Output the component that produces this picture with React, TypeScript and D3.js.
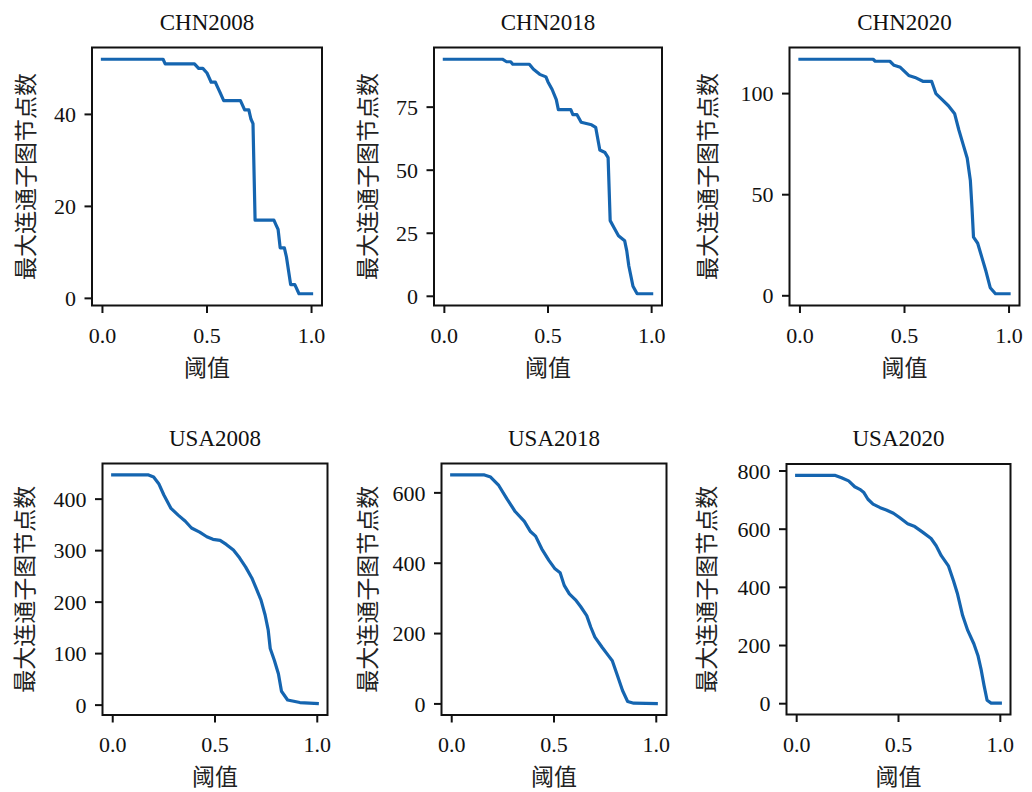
import React from "react";
import * as d3 from "d3";

const titles = ["CHN2008", "CHN2018", "CHN2020", "USA2008", "USA2018", "USA2020"];
const xTicks = [0, 0.5, 1.0];
const yTicksCHN2008 = [0, 20, 40];
const yTicksCHN2018 = [0, 25, 50, 75];
const yTicksCHN2020 = [0, 50, 100];
const yTicksUSA2008 = [0, 100, 200, 300, 400];
const yTicksUSA2018 = [0, 200, 400, 600];
const yTicksUSA2020 = [0, 200, 400, 600, 800];
const yLabel = "最大连通子图节点数";
const xLabel = "阈值";

const chn2008X = [0, 0.29, 0.30, 0.44, 0.46, 0.48, 0.50, 0.51, 0.52, 0.54, 0.55, 0.56, 0.58, 0.66, 0.68, 0.70, 0.71, 0.72, 0.73, 0.82, 0.83, 0.84, 0.85, 0.87, 0.88, 0.90, 0.92, 0.94, 1.0];
const chn2008Y = [52, 52, 51, 51, 50, 50, 49, 48, 47, 47, 46, 45, 43, 43, 41, 41, 39, 38, 17, 17, 16, 15, 11, 11, 9, 3, 3, 1, 1];

const chn2018X = [0, 0.28, 0.30, 0.32, 0.33, 0.41, 0.43, 0.46, 0.49, 0.50, 0.52, 0.54, 0.55, 0.61, 0.62, 0.64, 0.66, 0.71, 0.73, 0.75, 0.775, 0.79, 0.80, 0.82, 0.84, 0.87, 0.88, 0.89, 0.91, 0.93, 1.0];
const chn2018Y = [94, 94, 93, 93, 92, 92, 90, 88, 87, 85, 82, 78, 74, 74, 72, 72, 69, 68, 67, 58, 57, 55, 30, 27, 24, 22, 18, 12, 4, 1, 1];

const chn2020X = [0, 0.35, 0.36, 0.43, 0.45, 0.48, 0.50, 0.52, 0.55, 0.59, 0.63, 0.65, 0.68, 0.71, 0.74, 0.76, 0.78, 0.80, 0.815, 0.823, 0.83, 0.85, 0.87, 0.89, 0.91, 0.935, 1.0];
const chn2020Y = [117, 117, 116, 116, 114, 113, 111, 109, 108, 106, 106, 100, 97, 94, 90, 82, 75, 68, 57, 43, 29, 26, 19, 12, 4, 1, 1];

const usa2008X = [0, 0.175, 0.20, 0.225, 0.25, 0.285, 0.32, 0.355, 0.385, 0.425, 0.46, 0.49, 0.525, 0.555, 0.59, 0.62, 0.65, 0.68, 0.70, 0.725, 0.745, 0.76, 0.77, 0.79, 0.81, 0.825, 0.855, 0.915, 1.0];
const usa2008Y = [447, 447, 443, 430, 408, 382, 369, 357, 344, 336, 327, 322, 320, 312, 301, 286, 268, 247, 228, 204, 175, 146, 110, 87, 61, 27, 10, 5, 3];

const usa2018X = [0, 0.16, 0.19, 0.23, 0.27, 0.31, 0.355, 0.385, 0.41, 0.44, 0.475, 0.505, 0.53, 0.55, 0.575, 0.605, 0.63, 0.66, 0.68, 0.70, 0.735, 0.765, 0.785, 0.81, 0.835, 0.86, 0.89, 1.0];
const usa2018Y = [651, 651, 645, 621, 583, 547, 519, 490, 477, 441, 408, 384, 373, 337, 313, 296, 277, 251, 218, 190, 161, 138, 123, 81, 38, 7, 2, 1];

const usa2020X = [0, 0.19, 0.22, 0.255, 0.285, 0.31, 0.33, 0.35, 0.375, 0.41, 0.44, 0.475, 0.505, 0.545, 0.58, 0.62, 0.66, 0.685, 0.71, 0.745, 0.77, 0.79, 0.815, 0.84, 0.87, 0.89, 0.905, 0.92, 0.935, 0.955, 1.0];
const usa2020Y = [785, 785, 777, 766, 746, 737, 726, 703, 686, 674, 666, 655, 640, 619, 609, 589, 568, 543, 509, 474, 423, 377, 303, 252, 206, 166, 120, 63, 12, 2, 2];

const seriesX = [chn2008X, chn2018X, chn2020X, usa2008X, usa2018X, usa2020X];
const seriesY = [chn2008Y, chn2018Y, chn2020Y, usa2008Y, usa2018Y, usa2020Y];
const yTickSets = [yTicksCHN2008, yTicksCHN2018, yTicksCHN2020, yTicksUSA2008, yTicksUSA2018, yTicksUSA2020];

// layout (pixel boxes of each axes)
const boxes = [
  { l: 92, r: 322, t: 47.5, b: 305.5, yl: 26 },
  { l: 434, r: 662, t: 47.5, b: 305.5, yl: 368 },
  { l: 789.5, r: 1019.5, t: 47.5, b: 305.5, yl: 708 },
  { l: 102.5, r: 327.5, t: 463.5, b: 715, yl: 25 },
  { l: 441.5, r: 666.5, t: 463.5, b: 715, yl: 368 },
  { l: 786.5, r: 1010.5, t: 464, b: 714.5, yl: 707 },
];

const LINE_COLOR = "#1565b0";
const LATIN = "'Liberation Serif', 'Times New Roman', serif";
const CJK = "'Noto Sans CJK SC', 'Noto Sans CJK JP', sans-serif";
const TICK = 7.5;

function Panel({ i }: { i: number }) {
  const bx = boxes[i];
  const xs = seriesX[i];
  const ys = seriesY[i];
  const yMin = d3.min(ys) as number;
  const yMax = d3.max(ys) as number;
  const pad = (yMax - yMin) * 0.05;
  const x = d3.scaleLinear().domain([-0.05, 1.05]).range([bx.l, bx.r]);
  const y = d3.scaleLinear().domain([yMin - pad, yMax + pad]).range([bx.b, bx.t]);
  const pts = xs.map((v, k) => [v, ys[k]] as [number, number]);
  const line = d3
    .line<[number, number]>()
    .x((d) => x(d[0]))
    .y((d) => y(d[1]));
  const cx = (bx.l + bx.r) / 2;
  const cy = (bx.t + bx.b) / 2;
  return (
    <g>
      <path d={line(pts) || ""} fill="none" stroke={LINE_COLOR} strokeWidth={3.2} strokeLinejoin="round" strokeLinecap="square" />
      <rect x={bx.l} y={bx.t} width={bx.r - bx.l} height={bx.b - bx.t} fill="none" stroke="#111" strokeWidth={2} />
      {xTicks.map((t) => (
        <g key={"x" + t}>
          <line x1={x(t)} x2={x(t)} y1={bx.b} y2={bx.b + TICK} stroke="#111" strokeWidth={2} />
          <text x={x(t)} y={bx.b + 37} textAnchor="middle" fontFamily={LATIN} fontSize={22} fill="#111">
            {t.toFixed(1)}
          </text>
        </g>
      ))}
      {yTickSets[i].map((t) => (
        <g key={"y" + t}>
          <line x1={bx.l - TICK} x2={bx.l} y1={y(t)} y2={y(t)} stroke="#111" strokeWidth={2} />
          <text x={bx.l - 16} y={y(t)} dy="0.35em" textAnchor="end" fontFamily={LATIN} fontSize={22} fill="#111">
            {t}
          </text>
        </g>
      ))}
      <text x={cx} y={bx.t - 18} textAnchor="middle" fontFamily={LATIN} fontSize={23} fill="#111">
        {titles[i]}
      </text>
      <text x={cx} y={bx.b + 62} dy="0.35em" textAnchor="middle" fontFamily={CJK} fontSize={23} fill="#222">
        {xLabel}
      </text>
      <text
        transform={`translate(${bx.yl},${cy}) rotate(-90)`}
        dy="0.35em"
        textAnchor="middle"
        fontFamily={CJK}
        fontSize={23}
        fill="#222"
      >
        {yLabel}
      </text>
    </g>
  );
}

export default function App() {
  return (
    <svg
      width={1032}
      height={792}
      style={{ position: "absolute", left: 0, top: 0, background: "#fff" }}
    >
      <rect width={1032} height={792} fill="#fff" />
      {titles.map((_, i) => (
        <Panel key={i} i={i} />
      ))}
    </svg>
  );
}
